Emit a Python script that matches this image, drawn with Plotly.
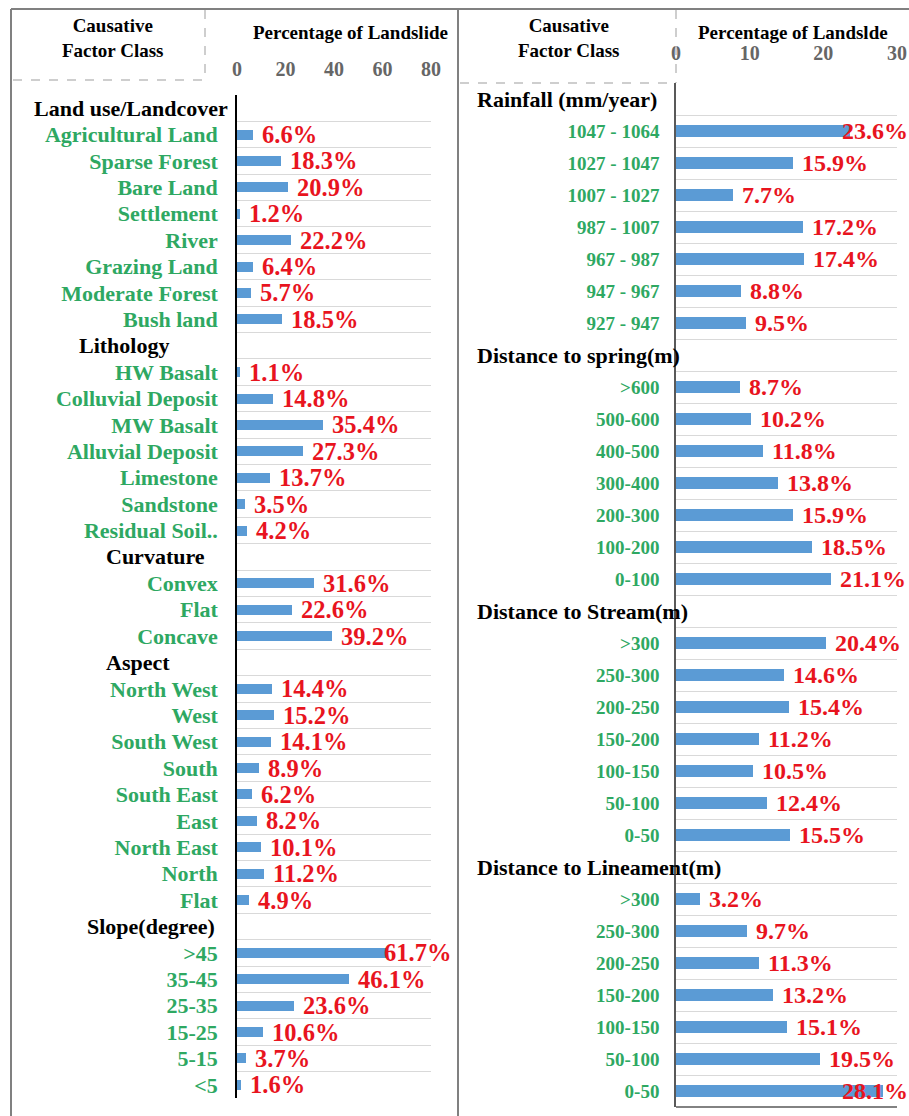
import plotly.graph_objects as go

W, H = 909, 1116

# ---------------- data: left panel ----------------
land_use_classes = ["Agricultural Land", "Sparse Forest", "Bare Land", "Settlement", "River",
                    "Grazing Land", "Moderate Forest", "Bush land"]
land_use_values = [6.6, 18.3, 20.9, 1.2, 22.2, 6.4, 5.7, 18.5]

lithology_classes = ["HW Basalt", "Colluvial Deposit", "MW Basalt", "Alluvial Deposit",
                     "Limestone", "Sandstone", "Residual Soil.."]
lithology_values = [1.1, 14.8, 35.4, 27.3, 13.7, 3.5, 4.2]

curvature_classes = ["Convex", "Flat", "Concave"]
curvature_values = [31.6, 22.6, 39.2]

aspect_classes = ["North West", "West", "South West", "South", "South East", "East",
                  "North East", "North", "Flat"]
aspect_values = [14.4, 15.2, 14.1, 8.9, 6.2, 8.2, 10.1, 11.2, 4.9]

slope_classes = [">45", "35-45", "25-35", "15-25", "5-15", "<5"]
slope_values = [61.7, 46.1, 23.6, 10.6, 3.7, 1.6]

# ---------------- data: right panel ----------------
rainfall_classes = ["1047 - 1064", "1027 - 1047", "1007 - 1027", "987 - 1007", "967 - 987",
                    "947 - 967", "927 - 947"]
rainfall_values = [23.6, 15.9, 7.7, 17.2, 17.4, 8.8, 9.5]

spring_classes = [">600", "500-600", "400-500", "300-400", "200-300", "100-200", "0-100"]
spring_values = [8.7, 10.2, 11.8, 13.8, 15.9, 18.5, 21.1]

stream_classes = [">300", "250-300", "200-250", "150-200", "100-150", "50-100", "0-50"]
stream_values = [20.4, 14.6, 15.4, 11.2, 10.5, 12.4, 15.5]

lineament_classes = [">300", "250-300", "200-250", "150-200", "100-150", "50-100", "0-50"]
lineament_values = [3.2, 9.7, 11.3, 13.2, 15.1, 19.5, 28.1]

left_sections = [
    ("Land use/Landcover", land_use_classes, land_use_values),
    ("Lithology", lithology_classes, lithology_values),
    ("Curvature", curvature_classes, curvature_values),
    ("Aspect", aspect_classes, aspect_values),
    ("Slope(degree)", slope_classes, slope_values),
]
right_sections = [
    ("Rainfall (mm/year)", rainfall_classes, rainfall_values),
    ("Distance to spring(m)", spring_classes, spring_values),
    ("Distance to Stream(m)", stream_classes, stream_values),
    ("Distance to Lineament(m)", lineament_classes, lineament_values),
]

left_ticks = [0, 20, 40, 60, 80]
right_ticks = [0, 10, 20, 30]

# ---------------- styles ----------------
FONT = "Liberation Serif, Times New Roman, serif"
BLUE = "#5B9BD5"
RED = "#E8141E"
GREEN = "#2EA862"
GRID = "#D9D9D9"
TICKGRAY = "#666666"

# header left-edge positions (px) for section titles
left_header_x = {"Land use/Landcover": 32, "Lithology": 77, "Curvature": 104,
                 "Aspect": 104, "Slope(degree)": 85}
right_header_x = 475

panels = {
    "left": dict(x0=237, x1=431, y0=95, y1=1098, xmax=80, xa="x", ya="y",
                 green_size=22, header_size=22, label_size=24.5, limit=453,
                 bar_w=0.38, axis_color="black", standoff_x=14, standoff_y=13),
    "right": dict(x0=676, x1=897, y0=83, y1=1107, xmax=30, xa="x2", ya="y2",
                  green_size=19, header_size=22, label_size=24, limit=910,
                  bar_w=0.38, axis_color="#595959", standoff_x=18, standoff_y=11),
}


def build_rows(sections):
    headers, pos, names, vals = [], [], [], []
    i = 0
    for title, classes, values in sections:
        headers.append((title, i))
        i += 1
        for c, v in zip(classes, values):
            pos.append(i)
            names.append(c)
            vals.append(v)
            i += 1
    return headers, pos, names, vals, i


def est_width(s, size):
    w = 0
    for ch in s:
        if ch.isdigit():
            w += 0.5
        elif ch == ".":
            w += 0.25
        elif ch == "%":
            w += 1.0
        else:
            w += 0.5
    return w * size


fig = go.Figure()
annotations = []
layout_axes = {}

for key, sections in (("left", left_sections), ("right", right_sections)):
    p = panels[key]
    headers, pos, names, vals, n = build_rows(sections)
    fig.add_trace(go.Bar(
        x=vals, y=pos, orientation="h", width=p["bar_w"],
        marker=dict(color=BLUE, line=dict(width=0)),
        xaxis=p["xa"], yaxis=p["ya"], showlegend=False, hoverinfo="skip",
    ))
    xsuffix = "" if p["xa"] == "x" else "2"
    ysuffix = "" if p["ya"] == "y" else "2"
    layout_axes["xaxis" + xsuffix] = dict(
        domain=[p["x0"] / W, p["x1"] / W], range=[0, p["xmax"]], side="top",
        anchor=p["ya"], tickmode="array", automargin=False,
        tickvals=left_ticks if key == "left" else right_ticks,
        tickfont=dict(family=FONT, size=20, color=TICKGRAY, weight="bold"),
        showgrid=False, zeroline=False, showline=False, ticks="",
        ticklabelstandoff=p["standoff_x"], fixedrange=True,
    )
    layout_axes["yaxis" + ysuffix] = dict(
        domain=[1 - p["y1"] / H, 1 - p["y0"] / H], range=[n - 0.5, -0.5],
        anchor=p["xa"], tickmode="array", tickvals=pos, ticktext=names,
        automargin=False,
        tickfont=dict(family=FONT, size=p["green_size"], color=GREEN, weight="bold"),
        showgrid=False, zeroline=False, showline=True, linecolor=p["axis_color"],
        linewidth=1.5, ticks="", ticklabelstandoff=p["standoff_y"],
        minor=dict(tickmode="array", tickvals=[k - 0.5 for k in range(n + 1)],
                   showgrid=True, gridcolor=GRID, gridwidth=1, ticks=""),
        fixedrange=True,
    )
    # section headers
    for title, idx in headers:
        hx = left_header_x[title] if key == "left" else right_header_x
        annotations.append(dict(
            text=title, xref="paper", x=hx / W, xanchor="left",
            yref=p["ya"], y=idx, yanchor="middle", showarrow=False,
            font=dict(family=FONT, size=p["header_size"], color="black", weight="bold"),
        ))
    # value labels
    scale = (p["x1"] - p["x0"]) / p["xmax"]
    for v, y in zip(vals, pos):
        txt = f"{v:.1f}%"
        start = p["x0"] + v * scale + 8
        font = dict(family=FONT, size=p["label_size"], color=RED, weight="bold")
        if start + est_width(txt, p["label_size"]) > p["limit"]:
            annotations.append(dict(
                text=txt, xref="paper", x=p["limit"] / W, xanchor="right",
                yref=p["ya"], y=y, yanchor="middle", showarrow=False, font=font,
            ))
        else:
            annotations.append(dict(
                text=txt, xref=p["xa"], x=v, xanchor="left", xshift=7,
                yref=p["ya"], y=y, yanchor="middle", showarrow=False, font=font,
            ))

# header texts
for cx, ty, ttl in ((350, 33, "Percentage of Landslide"), (793, 32, "Percentage of Landslde")):
    annotations.append(dict(
        text=ttl, xref="paper", x=cx / W, xanchor="center", yref="paper", y=1 - ty / H,
        yanchor="middle", showarrow=False,
        font=dict(family=FONT, size=19, color="black", weight="bold"),
    ))
for cx in (113, 569):
    annotations.append(dict(
        text="Causative<br>Factor Class", xref="paper", x=cx / W, xanchor="center",
        yref="paper", y=1 - 38 / H, yanchor="middle", showarrow=False, align="center",
        font=dict(family=FONT, size=19, color="black", weight="bold"),
    ))


def pline(x0, y0, x1, y1, color, width, dash="solid"):
    return dict(type="line", xref="paper", yref="paper",
                x0=x0 / W, x1=x1 / W, y0=1 - y0 / H, y1=1 - y1 / H,
                line=dict(color=color, width=width, dash=dash), layer="above")


shapes = [
    # outer frame
    pline(11, 9, 909, 9, "#808080", 2),
    pline(11, 9, 11, 1116, "#808080", 2),
    pline(458, 9, 458, 1116, "#808080", 2),
    # dashed header boxes
    pline(205, 10, 205, 80, "#BFBFBF", 1.5, "dash"),
    pline(13, 80, 205, 80, "#BFBFBF", 1.5, "dash"),
    pline(676, 10, 676, 83, "#BFBFBF", 1.5, "dash"),
    pline(460, 83, 676, 83, "#BFBFBF", 1.5, "dash"),
    # right panel bottom axis line
    pline(676, 1107, 897, 1107, "#595959", 1.5),
]

fig.update_layout(
    width=W, height=H, autosize=False,
    margin=dict(l=0, r=0, t=0, b=0, pad=0, autoexpand=False),
    paper_bgcolor="white", plot_bgcolor="white",
    bargap=0, showlegend=False,
    annotations=annotations, shapes=shapes,
    **layout_axes,
)

fig.write_html(
    "out.html",
    config={"responsive": False, "displayModeBar": False},
    post_script="document.documentElement.style.overflow='hidden';"
                "document.body.style.margin='0';document.body.style.padding='0';"
                "document.body.style.overflow='hidden';",
)
